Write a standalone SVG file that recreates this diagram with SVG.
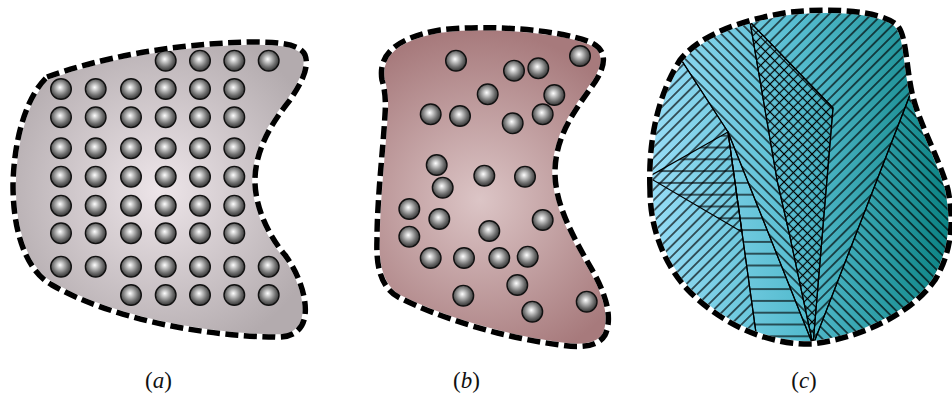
<svg xmlns="http://www.w3.org/2000/svg" width="952" height="398" viewBox="0 0 952 398">
  <defs>
    <style>
      .edge-base { fill: none; stroke: #ffffff; stroke-width: 5.5; }
      .edge-dash { fill: none; stroke: #000000; stroke-width: 5.5; stroke-dasharray: 13 5.5; }
      .balls circle { fill: url(#ballGrad); stroke: #111111; stroke-width: 1.4; }
      .region { stroke: #000000; stroke-width: 1.2; stroke-linejoin: round; }
      .hl { stroke: #000000; stroke-width: 1.2; }
      .label { font-family: "Liberation Serif", "DejaVu Serif", serif; font-size: 23px; fill: #111111; text-anchor: middle; }
      .label tspan.it { font-style: italic; }
    </style>

    <!-- shaded sphere -->
    <radialGradient id="ballGrad" cx="0.47" cy="0.45" r="0.58" fx="0.45" fy="0.42">
      <stop offset="0" stop-color="#ffffff"/>
      <stop offset="0.22" stop-color="#cfcfcf"/>
      <stop offset="0.65" stop-color="#6e6e6e"/>
      <stop offset="1" stop-color="#2b2b2b"/>
    </radialGradient>

    <!-- panel fills -->
    <radialGradient id="fillA" gradientUnits="userSpaceOnUse" cx="160" cy="190" r="170">
      <stop offset="0" stop-color="#ede5e9"/>
      <stop offset="1" stop-color="#b3abae"/>
    </radialGradient>
    <radialGradient id="fillB" gradientUnits="userSpaceOnUse" cx="480" cy="200" r="170">
      <stop offset="0" stop-color="#dcc5c6"/>
      <stop offset="1" stop-color="#a77a7c"/>
    </radialGradient>
    <linearGradient id="fillC" gradientUnits="userSpaceOnUse" x1="648" y1="0" x2="952" y2="0">
      <stop offset="0" stop-color="#98ddf7"/>
      <stop offset="0.5" stop-color="#55bccf"/>
      <stop offset="1" stop-color="#0a8282"/>
    </linearGradient>

    <!-- hatch patterns -->
    <pattern id="hatchFwd" patternUnits="userSpaceOnUse" width="7.5" height="7.5" patternTransform="rotate(45)">
      <line x1="3.75" y1="0" x2="3.75" y2="7.5" class="hl"/>
    </pattern>
    <pattern id="hatchBack" patternUnits="userSpaceOnUse" width="7.2" height="7.2" patternTransform="rotate(-45)">
      <line x1="3.6" y1="0" x2="3.6" y2="7.2" class="hl"/>
    </pattern>
    <pattern id="hatchHoriz" patternUnits="userSpaceOnUse" width="12" height="11.8">
      <line x1="0" y1="5.9" x2="12" y2="5.9" class="hl"/>
    </pattern>
    <pattern id="hatchCross" patternUnits="userSpaceOnUse" width="6.6" height="6.6" patternTransform="rotate(45)">
      <line x1="3.3" y1="0" x2="3.3" y2="6.6" class="hl"/>
      <line x1="0" y1="3.3" x2="6.6" y2="3.3" class="hl"/>
    </pattern>

    <path id="outlineC" d="M 650,190 C 648,140 658,95 680,60 C 700,35 740,20 790,12 C 830,8 880,10 897,25 C 907,35 906,70 913,97 C 920,125 940,160 948,190 C 955,225 950,255 935,280 C 910,315 860,338 812,344 C 760,345 715,318 688,290 C 662,262 650,225 650,190 Z"/>
    <clipPath id="clipC">
      <use href="#outlineC"/>
    </clipPath>
  </defs>

  <rect width="952" height="398" fill="#ffffff"/>

  <!-- (a) regular arrangement -->
  <g id="panel-a">
    <path id="shape-a" fill="url(#fillA)" d="M 47,77 C 100,58 170,44 250,42 C 280,42 300,44 305,55 C 310,68 300,85 290,100 C 270,125 256,150 255,178 C 254,205 268,235 285,255 C 300,275 307,300 305,315 C 303,332 290,338 275,337 C 200,336 110,318 52,285 C 25,270 13,230 13,185 C 14,135 28,95 47,77 Z"/>
    <g class="balls">
      <circle cx="165.7" cy="60.7" r="10.3"/><circle cx="200" cy="60.7" r="10.3"/><circle cx="234.3" cy="60.7" r="10.3"/><circle cx="268.7" cy="60.7" r="10.3"/>

      <circle cx="61" cy="89" r="10.3"/><circle cx="95.7" cy="89" r="10.3"/><circle cx="131" cy="89" r="10.3"/><circle cx="165.7" cy="89" r="10.3"/><circle cx="200" cy="89" r="10.3"/><circle cx="234.3" cy="89" r="10.3"/>

      <circle cx="61" cy="117.3" r="10.3"/><circle cx="95.7" cy="117.3" r="10.3"/><circle cx="131" cy="117.3" r="10.3"/><circle cx="165.7" cy="117.3" r="10.3"/><circle cx="200" cy="117.3" r="10.3"/><circle cx="234.3" cy="117.3" r="10.3"/>

      <circle cx="61" cy="148.3" r="10.3"/><circle cx="95.7" cy="148.3" r="10.3"/><circle cx="131" cy="148.3" r="10.3"/><circle cx="165.7" cy="148.3" r="10.3"/><circle cx="200" cy="148.3" r="10.3"/><circle cx="234.3" cy="148.3" r="10.3"/>

      <circle cx="61" cy="176.7" r="10.3"/><circle cx="95.7" cy="176.7" r="10.3"/><circle cx="131" cy="176.7" r="10.3"/><circle cx="165.7" cy="176.7" r="10.3"/><circle cx="200" cy="176.7" r="10.3"/><circle cx="234.3" cy="176.7" r="10.3"/>

      <circle cx="61" cy="205.7" r="10.3"/><circle cx="95.7" cy="205.7" r="10.3"/><circle cx="131" cy="205.7" r="10.3"/><circle cx="165.7" cy="205.7" r="10.3"/><circle cx="200" cy="205.7" r="10.3"/><circle cx="234.3" cy="205.7" r="10.3"/>

      <circle cx="61" cy="233.3" r="10.3"/><circle cx="95.7" cy="233.3" r="10.3"/><circle cx="131" cy="233.3" r="10.3"/><circle cx="165.7" cy="233.3" r="10.3"/><circle cx="200" cy="233.3" r="10.3"/><circle cx="234.3" cy="233.3" r="10.3"/>

      <circle cx="61" cy="266.7" r="10.3"/><circle cx="95.7" cy="266.7" r="10.3"/><circle cx="131" cy="266.7" r="10.3"/><circle cx="165.7" cy="266.7" r="10.3"/><circle cx="200" cy="266.7" r="10.3"/><circle cx="234.3" cy="266.7" r="10.3"/><circle cx="268.7" cy="266.7" r="10.3"/>

      <circle cx="131" cy="295" r="10.3"/><circle cx="165.7" cy="295" r="10.3"/><circle cx="200" cy="295" r="10.3"/><circle cx="234.3" cy="295" r="10.3"/><circle cx="268.7" cy="295" r="10.3"/>
    </g>
    <path class="edge-base" d="M 47,77 C 100,58 170,44 250,42 C 280,42 300,44 305,55 C 310,68 300,85 290,100 C 270,125 256,150 255,178 C 254,205 268,235 285,255 C 300,275 307,300 305,315 C 303,332 290,338 275,337 C 200,336 110,318 52,285 C 25,270 13,230 13,185 C 14,135 28,95 47,77 Z"/>
    <path class="edge-dash" d="M 47,77 C 100,58 170,44 250,42 C 280,42 300,44 305,55 C 310,68 300,85 290,100 C 270,125 256,150 255,178 C 254,205 268,235 285,255 C 300,275 307,300 305,315 C 303,332 290,338 275,337 C 200,336 110,318 52,285 C 25,270 13,230 13,185 C 14,135 28,95 47,77 Z"/>
    <text class="label" x="158.5" y="387.5">(<tspan class="it">a</tspan>)</text>
  </g>

  <!-- (b) random arrangement -->
  <g id="panel-b">
    <path id="shape-b" fill="url(#fillB)" d="M 382,80 C 378,55 395,38 440,30 C 490,24 560,30 590,42 C 608,50 606,65 595,82 C 575,110 556,135 555,170 C 554,205 575,240 595,275 C 608,300 612,320 605,335 C 598,347 580,348 560,345 C 500,337 440,318 400,298 C 380,288 376,265 377,240 C 377,200 383,150 385,115 C 386,100 385,90 382,80 Z"/>
    <g class="balls">
      <circle cx="456" cy="60.7" r="10.3"/>
      <circle cx="514" cy="70.7" r="10.3"/>
      <circle cx="538.3" cy="68.3" r="10.3"/>
      <circle cx="580" cy="56" r="10.3"/>
      <circle cx="487.7" cy="94.3" r="10.3"/>
      <circle cx="554.3" cy="95" r="10.3"/>
      <circle cx="430.7" cy="114.3" r="10.3"/>
      <circle cx="460" cy="116" r="10.3"/>
      <circle cx="512.7" cy="123.3" r="10.3"/>
      <circle cx="542.7" cy="114.3" r="10.3"/>
      <circle cx="436.7" cy="165" r="10.3"/>
      <circle cx="484.3" cy="175.7" r="10.3"/>
      <circle cx="525" cy="176.7" r="10.3"/>
      <circle cx="442.7" cy="187.7" r="10.3"/>
      <circle cx="409.3" cy="209" r="10.3"/>
      <circle cx="439.3" cy="219" r="10.3"/>
      <circle cx="542.7" cy="220" r="10.3"/>
      <circle cx="409.3" cy="236.7" r="10.3"/>
      <circle cx="489.3" cy="231" r="10.3"/>
      <circle cx="430.7" cy="258" r="10.3"/>
      <circle cx="464" cy="258" r="10.3"/>
      <circle cx="499.3" cy="258" r="10.3"/>
      <circle cx="527.7" cy="256.7" r="10.3"/>
      <circle cx="517.3" cy="285" r="10.3"/>
      <circle cx="463.3" cy="295.7" r="10.3"/>
      <circle cx="586.7" cy="301.7" r="10.3"/>
      <circle cx="532.3" cy="311.7" r="10.3"/>
    </g>
    <path class="edge-base" d="M 382,80 C 378,55 395,38 440,30 C 490,24 560,30 590,42 C 608,50 606,65 595,82 C 575,110 556,135 555,170 C 554,205 575,240 595,275 C 608,300 612,320 605,335 C 598,347 580,348 560,345 C 500,337 440,318 400,298 C 380,288 376,265 377,240 C 377,200 383,150 385,115 C 386,100 385,90 382,80 Z"/>
    <path class="edge-dash" d="M 382,80 C 378,55 395,38 440,30 C 490,24 560,30 590,42 C 608,50 606,65 595,82 C 575,110 556,135 555,170 C 554,205 575,240 595,275 C 608,300 612,320 605,335 C 598,347 580,348 560,345 C 500,337 440,318 400,298 C 380,288 376,265 377,240 C 377,200 383,150 385,115 C 386,100 385,90 382,80 Z"/>
    <text class="label" x="466.5" y="387.5">(<tspan class="it">b</tspan>)</text>
  </g>

  <!-- (c) grains with differently oriented hatching -->
  <g id="panel-c">
    <use href="#outlineC" fill="url(#fillC)"/>
    <g clip-path="url(#clipC)">
      <polygon id="grain-left" class="region" fill="url(#hatchFwd)" points="600,-10 636,-10 728,132 757,340 765,420 600,420"/>
      <polygon id="grain-band" class="region" fill="url(#hatchHoriz)" points="728,132 813,345 813,420 765,420 757,340"/>
      <polygon id="grain-triangle" class="region" fill="url(#hatchHoriz)" points="648,177 728,132 742,232"/>
      <polygon id="grain-mid" class="region" fill="url(#hatchBack)" points="636,-10 747,-10 750,22 777,180 790,237 813,345 728,132"/>
      <polygon id="grain-cross" class="region" fill="url(#hatchCross)" points="750,22 833,108 813,345 790,237 777,180"/>
      <polygon id="grain-right" class="region" fill="url(#hatchFwd)" points="747,-10 951,-10 908,100 813,345 833,108 750,22"/>
      <polygon id="grain-far" class="region" fill="url(#hatchBack)" points="951,-10 970,-10 970,420 813,420 813,345 908,100"/>
    </g>
    <use href="#outlineC" class="edge-base"/>
    <use href="#outlineC" class="edge-dash"/>
    <text class="label" x="804" y="387.5">(<tspan class="it">c</tspan>)</text>
  </g>
</svg>
